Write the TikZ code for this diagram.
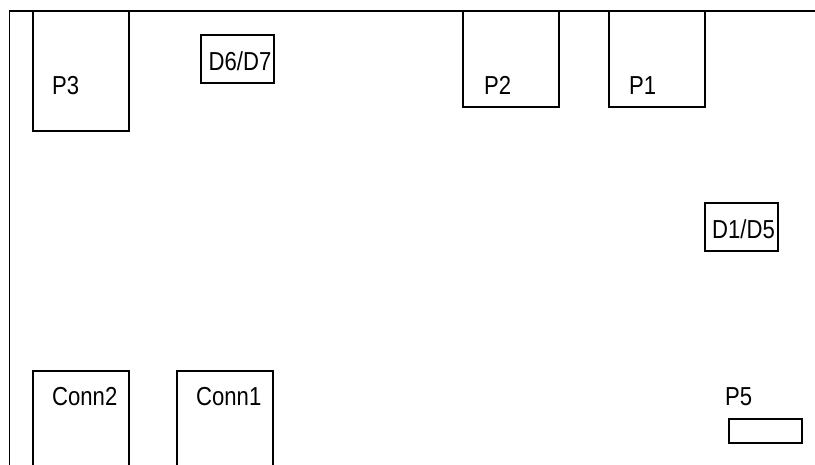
\documentclass[tikz,border=0pt]{standalone}
\usepackage{fontspec}
\setmainfont[FakeStretch=0.85]{Liberation Sans}
\tikzset{
  x=1pt,y=-1pt,
  part/.style={draw=black,line width=1.8pt,fill=white,inner sep=0pt,rectangle},
  lab/.style={anchor=base west,inner sep=0pt,font=\fontsize{26pt}{26pt}\selectfont,text=black},
  wire/.style={draw=black,line width=1.8pt,line cap=butt,line join=miter}
}
\begin{document}
\begin{tikzpicture}
\useasboundingbox (0,0) rectangle (815,464);
\clip (0,0) rectangle (815,464);
\coordinate (frameB) at (9.5,470);
\coordinate (frameC) at (9.5,11);
\coordinate (frameE) at (820,11);
\draw[wire] (frameB) -- (frameC) -- (frameE);
\node[part,minimum width=96pt,minimum height=120pt] (p3) at (81,71) {};
\node[part,minimum width=96pt,minimum height=96pt] (p2) at (511,59) {};
\node[part,minimum width=96pt,minimum height=96pt] (p1) at (657,59) {};
\node[part,minimum width=73pt,minimum height=48pt] (d67) at (237.5,59) {};
\node[part,minimum width=73pt,minimum height=48pt] (d15) at (741.5,227) {};
\node[part,minimum width=96pt,minimum height=110pt] (c2) at (81,426) {};
\node[part,minimum width=96pt,minimum height=110pt] (c1) at (225,426) {};
\node[part,minimum width=73pt,minimum height=24pt] (p5) at (765.5,431) {};
\node[lab] (tp3) at (52,94) {P3};
\node[lab] (tp2) at (484,94) {P2};
\node[lab] (tp1) at (629,94) {P1};
\node[lab] (td67) at (208.5,70) {D6/D7};
\node[lab] (td15) at (712,238) {D1/D5};
\node[lab] (tc2) at (52,405) {Conn2};
\node[lab] (tc1) at (196,405) {Conn1};
\node[lab] (tp5) at (725,405) {P5};
\end{tikzpicture}
\end{document}
